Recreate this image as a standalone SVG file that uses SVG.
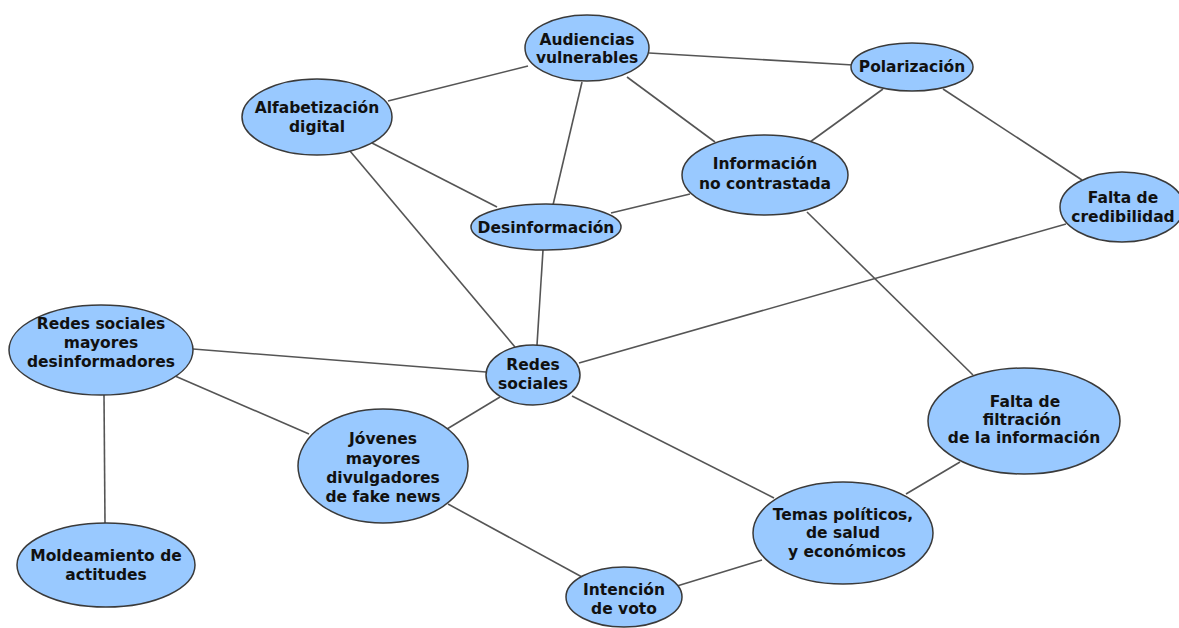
<svg xmlns="http://www.w3.org/2000/svg" width="1179" height="628" viewBox="0 0 1179 628">
<style>
.n ellipse{fill:#99c9ff;stroke:#3a3a3a;stroke-width:1.5}
.n text{font-family:"DejaVu Sans",Verdana,sans-serif;font-weight:bold;font-size:15.5px;fill:#111;text-anchor:middle;dominant-baseline:central}
#edges line{stroke:#555;stroke-width:1.6}
</style>
<rect width="1179" height="628" fill="#fff"/>
<g id="edges">
<line x1="388" y1="101" x2="528" y2="66"/>
<line x1="372" y1="143" x2="497" y2="207"/>
<line x1="350" y1="151" x2="515" y2="347"/>
<line x1="582" y1="82" x2="553" y2="205"/>
<line x1="649" y1="53" x2="853" y2="65"/>
<line x1="627" y1="77" x2="715" y2="142"/>
<line x1="883" y1="89" x2="810" y2="142"/>
<line x1="943" y1="89" x2="1082" y2="180"/>
<line x1="690" y1="194" x2="611" y2="213"/>
<line x1="807" y1="212" x2="973" y2="375"/>
<line x1="543" y1="250" x2="537" y2="345"/>
<line x1="579" y1="363" x2="1066" y2="224"/>
<line x1="193" y1="349" x2="486" y2="372"/>
<line x1="175" y1="376" x2="309" y2="434"/>
<line x1="104" y1="395" x2="105" y2="523"/>
<line x1="447" y1="429" x2="500" y2="397"/>
<line x1="448" y1="504" x2="582" y2="577"/>
<line x1="572" y1="396" x2="774" y2="498"/>
<line x1="677" y1="586" x2="762" y2="560"/>
<line x1="906" y1="494" x2="960" y2="462"/>
</g>
<g id="alfabetizacion" class="n"><ellipse cx="317" cy="117" rx="75" ry="38"/><text x="317" y="108">Alfabetización</text><text x="317" y="127">digital</text></g>
<g id="audiencias" class="n"><ellipse cx="587" cy="48" rx="62" ry="33"/><text x="587" y="40">Audiencias</text><text x="587" y="58">vulnerables</text></g>
<g id="polarizacion" class="n"><ellipse cx="912" cy="67" rx="61" ry="24"/><text x="912" y="67">Polarización</text></g>
<g id="informacion" class="n"><ellipse cx="765" cy="175" rx="83" ry="40"/><text x="765" y="164">Información</text><text x="765" y="184">no contrastada</text></g>
<g id="desinformacion" class="n"><ellipse cx="546" cy="227" rx="75" ry="23"/><text x="546" y="228">Desinformación</text></g>
<g id="credibilidad" class="n"><ellipse cx="1122" cy="207" rx="62" ry="35"/><text x="1123" y="198">Falta de</text><text x="1123" y="217">credibilidad</text></g>
<g id="redes-mayores" class="n"><ellipse cx="101" cy="350" rx="92" ry="45"/><text x="101" y="324">Redes sociales</text><text x="101" y="343">mayores</text><text x="101" y="362">desinformadores</text></g>
<g id="redes" class="n"><ellipse cx="533" cy="375" rx="47" ry="30"/><text x="533" y="365">Redes</text><text x="533" y="384">sociales</text></g>
<g id="filtracion" class="n"><ellipse cx="1024" cy="421" rx="96" ry="53"/><text x="1025" y="402">Falta de</text><text x="1022" y="420">filtración</text><text x="1024" y="438">de la información</text></g>
<g id="jovenes" class="n"><ellipse cx="383" cy="466" rx="85" ry="57"/><text x="383" y="439">Jóvenes</text><text x="383" y="459">mayores</text><text x="383" y="478">divulgadores</text><text x="383" y="497">de fake news</text></g>
<g id="temas" class="n"><ellipse cx="843" cy="533" rx="90" ry="51"/><text x="843" y="515">Temas políticos,</text><text x="843" y="533">de salud</text><text x="847" y="552">y económicos</text></g>
<g id="moldeamiento" class="n"><ellipse cx="106" cy="565" rx="89" ry="42"/><text x="106" y="556">Moldeamiento de</text><text x="106" y="575">actitudes</text></g>
<g id="intencion" class="n"><ellipse cx="624" cy="597" rx="58" ry="30"/><text x="624" y="590">Intención</text><text x="624" y="609">de voto</text></g>
</svg>
